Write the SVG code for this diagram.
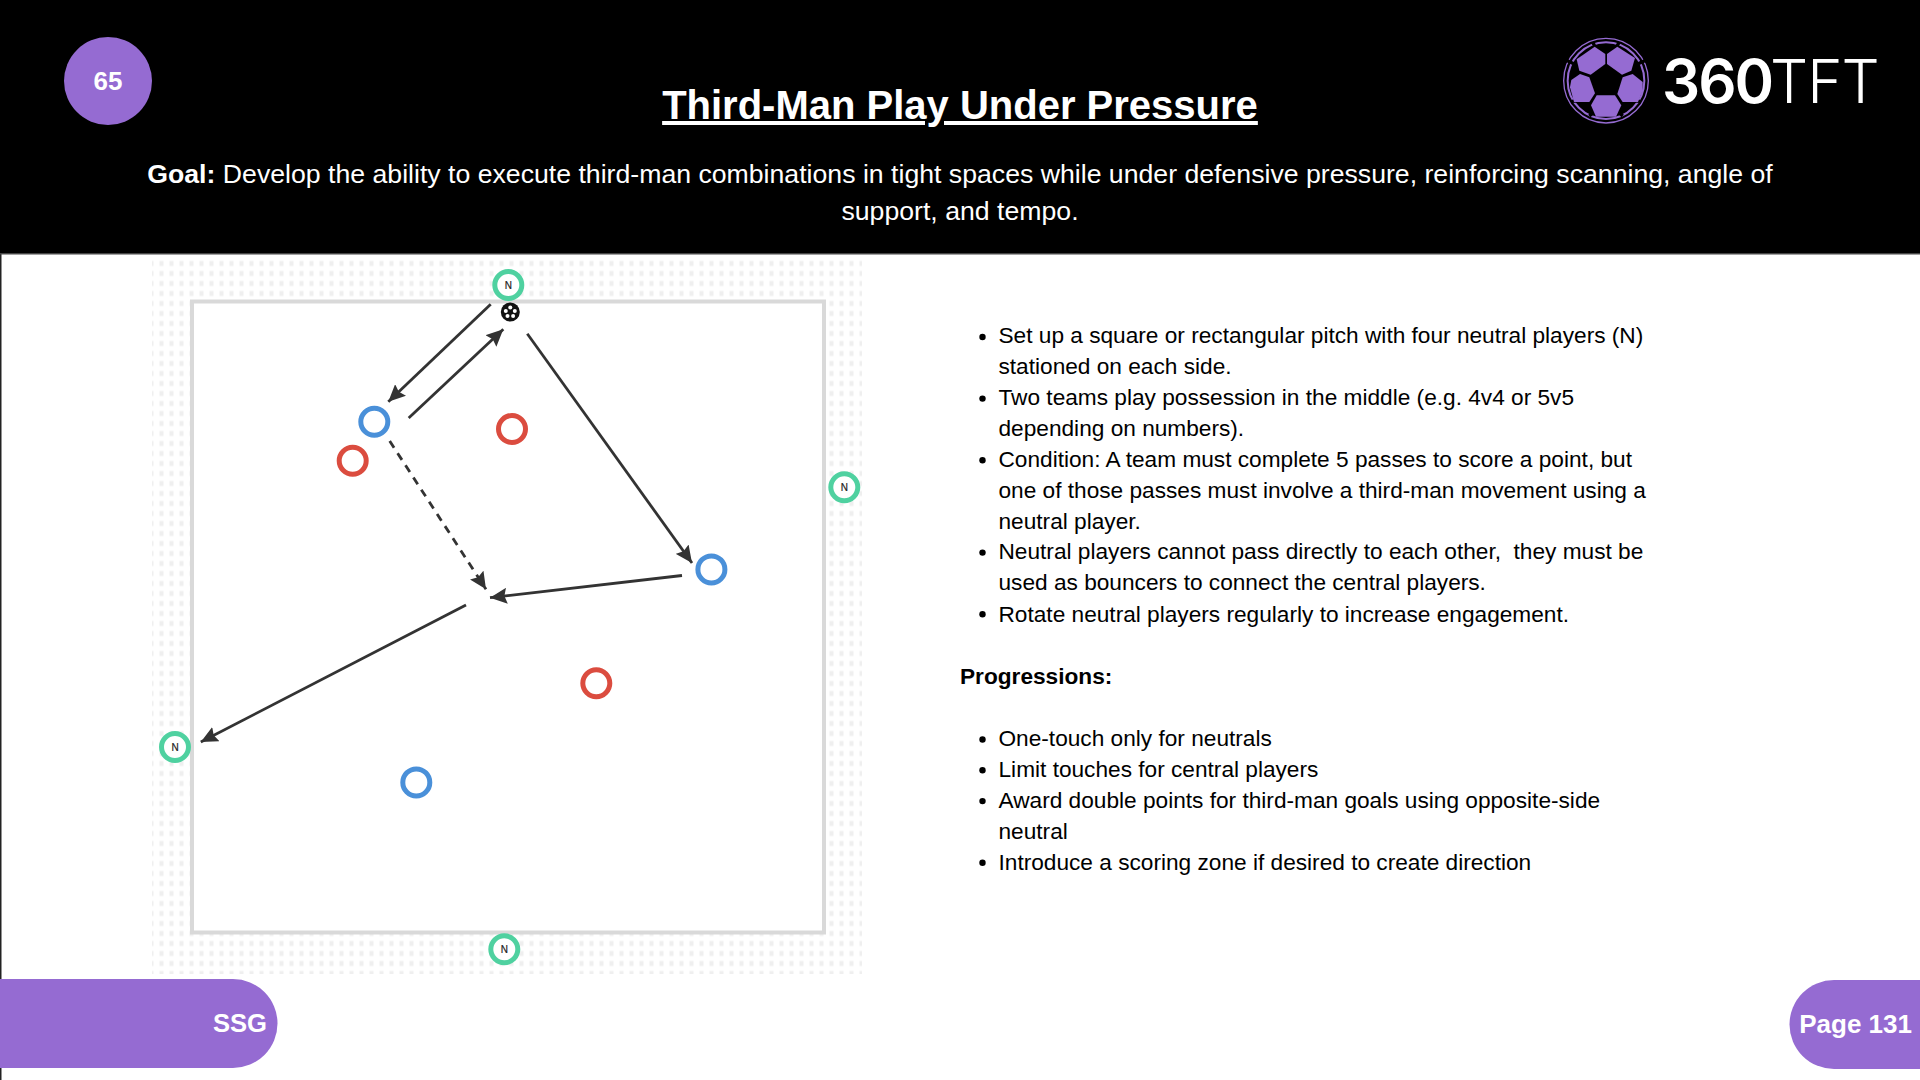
<svg xmlns="http://www.w3.org/2000/svg" width="1920" height="1080" viewBox="0 0 1920 1080">
<style>
text{font-family:"Liberation Sans",Arial,sans-serif}
.li{font-size:22.67px;fill:#000;white-space:pre}
.dot{fill:#000}
.ring{fill:#fff;stroke-width:5}
.g{stroke:#4fd1a0}.b{stroke:#4a90d9}.r{stroke:#db4c3f}
.n{font-size:10px;fill:#222;text-anchor:middle;stroke:#222;stroke-width:.2}
.c{fill:none;stroke:#333;stroke-width:2.8}
.p{fill:#956bd2}
</style>
<defs>
<pattern id="grid" x="147" y="259.5" width="10" height="10" patternUnits="userSpaceOnUse"><rect x="2.5" y="1.5" width="4" height="5" fill="#efefef"/></pattern>
<marker id="ah" markerUnits="userSpaceOnUse" markerWidth="18" markerHeight="16" refX="17" refY="8" orient="auto"><path d="M0 0L17 8L0 16L2.5 8Z" fill="#333"/></marker>
</defs>
<rect width="1920" height="1080" fill="#fff"/>
<rect x="0" y="253" width="1.5" height="827" fill="#222"/>
<rect x="152" y="260" width="710" height="714" fill="url(#grid)"/>
<rect id="pitch" x="192" y="301.5" width="632" height="631" fill="#fff" stroke="#d9d9d9" stroke-width="4"/>
<rect x="0" y="0" width="1920" height="253" fill="#000"/>
<rect x="0" y="253" width="1920" height="1.5" fill="#444"/>
<g id="badge"><circle cx="108" cy="81" r="44" class="p"/><text x="108" y="90" font-size="26" font-weight="bold" fill="#fff" text-anchor="middle">65</text></g>
<text id="title" x="960" y="119" font-size="40" font-weight="bold" fill="#fff" text-anchor="middle" text-decoration="underline">Third-Man Play Under Pressure</text>
<g id="goal" font-size="26.67" fill="#fff" text-anchor="middle">
<text x="960" y="183.3"><tspan font-weight="bold">Goal:</tspan> Develop the ability to execute third-man combinations in tight spaces while under defensive pressure, reinforcing scanning, angle of</text>
<text x="960" y="220.3">support, and tempo.</text>
</g>
<g id="logo">
<g transform="translate(1550 30) scale(.3333)">
<circle cx="168" cy="152" r="127" fill="none" stroke="#956bd2" stroke-width="4"/>
<circle cx="168" cy="152" r="115" fill="none" stroke="#956bd2" stroke-width="6"/>
<path d="M128 36L135 50M208 36L200 50M52 92L78 104M284 92L258 104M66 214L90 212M270 214L246 212M118 258L132 246M218 258L206 246" stroke="#000" stroke-width="10" fill="none"/>
<path class="p" d="M134 50L166 72V102L122 134L88 122L80 88Z"/>
<path class="p" d="M202 50L255 84L244 122L216 134L171 102V72Z"/>
<path class="p" d="M90 132L118 142L135 190L118 216H72L60 172L64 150Z"/>
<path class="p" d="M218 142L248 132L278 156V182L264 216H218L202 192Z"/>
<path class="p" d="M140 196H195L214 226L198 260H138L123 226Z"/>
</g>
<text x="1662" y="102.5" font-size="60" font-weight="600" fill="#fff" letter-spacing="-2" style="font-family:Inter,sans-serif">360</text>
<text x="1770" y="102.5" font-size="60" font-weight="300" fill="#fff" letter-spacing="-1" style="font-family:Inter,sans-serif">TFT</text>
</g>
<g id="connectors">
<line class="c" x1="490.7" y1="304.3" x2="388.3" y2="401.7" marker-end="url(#ah)"/>
<line class="c" x1="408.7" y1="418" x2="503.3" y2="329.3" marker-end="url(#ah)"/>
<line class="c" x1="527.3" y1="333.7" x2="692" y2="563" marker-end="url(#ah)"/>
<line class="c" x1="389.7" y1="441" x2="486" y2="589.3" stroke-dasharray="8 6.5" marker-end="url(#ah)"/>
<line class="c" x1="682" y1="575.5" x2="490" y2="597.7" marker-end="url(#ah)"/>
<line class="c" x1="466" y1="605" x2="200.8" y2="742" marker-end="url(#ah)"/>
</g>
<g id="n1"><circle class="ring g" cx="508.3" cy="285" r="13.5"/><text class="n" x="508.3" y="288.5">N</text></g>
<g id="n2"><circle class="ring g" cx="844.3" cy="487.3" r="13.5"/><text class="n" x="844.3" y="490.8">N</text></g>
<g id="n3"><circle class="ring g" cx="175" cy="747" r="13.5"/><text class="n" x="175" y="750.5">N</text></g>
<g id="n4"><circle class="ring g" cx="504.3" cy="949.3" r="13.5"/><text class="n" x="504.3" y="952.8">N</text></g>
<g id="ball"><circle cx="510.3" cy="312" r="9.5" fill="#111"/><g fill="#fff"><circle cx="510.3" cy="307.5" r="2"/><circle cx="505.8" cy="311" r="2"/><circle cx="514.8" cy="311" r="2"/><circle cx="507.5" cy="316" r="2"/><circle cx="513.1" cy="316" r="2"/></g></g>
<g id="b1"><circle class="ring b" cx="374.3" cy="421.7" r="13.5"/></g>
<g id="b2"><circle class="ring b" cx="711.4" cy="569.4" r="13.5"/></g>
<g id="b3"><circle class="ring b" cx="416.3" cy="782.4" r="13.5"/></g>
<g id="r1"><circle class="ring r" cx="352.7" cy="460.7" r="13.5"/></g>
<g id="r2"><circle class="ring r" cx="512" cy="429" r="13.5"/></g>
<g id="r3"><circle class="ring r" cx="596.3" cy="683.3" r="13.5"/></g>
<g id="notes">
<circle class="dot" cx="982.5" cy="337" r="3.2"/><text class="li" x="998.5" y="343">Set up a square or rectangular pitch with four neutral players (N)</text>
<text class="li" x="998.5" y="374">stationed on each side.</text>
<circle class="dot" cx="982.5" cy="398.6" r="3.2"/><text class="li" x="998.5" y="405">Two teams play possession in the middle (e.g. 4v4 or 5v5</text>
<text class="li" x="998.5" y="436">depending on numbers).</text>
<circle class="dot" cx="982.5" cy="460.2" r="3.2"/><text class="li" x="998.5" y="467">Condition: A team must complete 5 passes to score a point, but</text>
<text class="li" x="998.5" y="498">one of those passes must involve a third-man movement using a</text>
<text class="li" x="998.5" y="529">neutral player.</text>
<circle class="dot" cx="982.5" cy="552.6" r="3.2"/><text class="li" x="998.5" y="559">Neutral players cannot pass directly to each other,  they must be</text>
<text class="li" x="998.5" y="590">used as bouncers to connect the central players.</text>
<circle class="dot" cx="982.5" cy="614.2" r="3.2"/><text class="li" x="998.5" y="622">Rotate neutral players regularly to increase engagement.</text>
<text class="li" x="960" y="684" font-weight="bold">Progressions:</text>
<circle class="dot" cx="982.5" cy="739.5" r="3.2"/><text class="li" x="998.5" y="746">One-touch only for neutrals</text>
<circle class="dot" cx="982.5" cy="770.3" r="3.2"/><text class="li" x="998.5" y="777">Limit touches for central players</text>
<circle class="dot" cx="982.5" cy="801.1" r="3.2"/><text class="li" x="998.5" y="808">Award double points for third-man goals using opposite-side</text>
<text class="li" x="998.5" y="839">neutral</text>
<circle class="dot" cx="982.5" cy="862.7" r="3.2"/><text class="li" x="998.5" y="870">Introduce a scoring zone if desired to create direction</text>
</g>
<g id="ssg"><path class="p" d="M0 979H233A44.5 44.5 0 0 1 233 1068H0Z"/><text x="267" y="1032" font-size="25.6" font-weight="bold" fill="#fff" text-anchor="end">SSG</text></g>
<g id="page"><path class="p" d="M1920 980H1834A44.5 44.5 0 0 0 1834 1069H1920Z"/><text x="1912" y="1033" font-size="26" font-weight="bold" fill="#fff" text-anchor="end">Page 131</text></g>
</svg>
